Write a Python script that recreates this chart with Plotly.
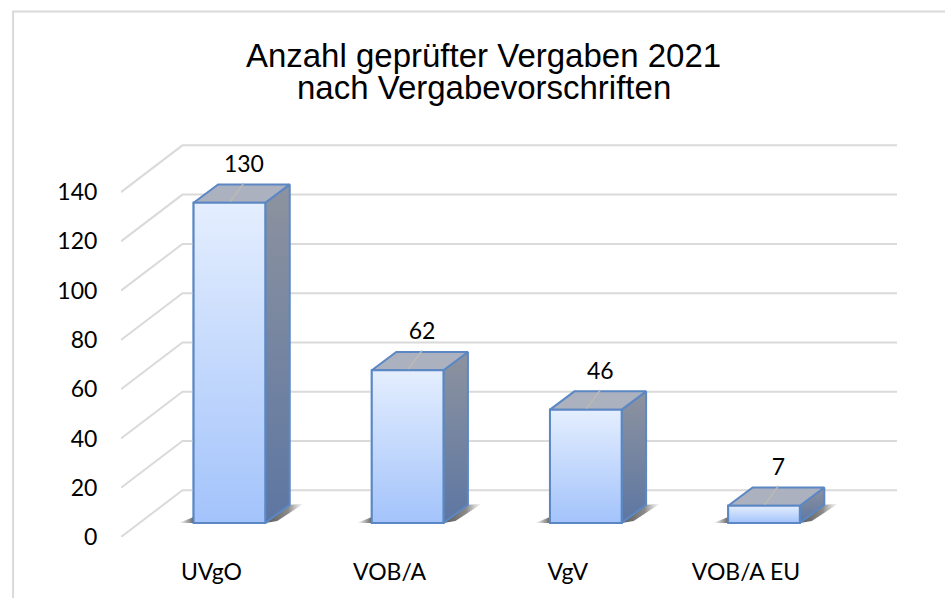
import plotly.graph_objects as go

categories = ["UVgO", "VOB/A", "VgV", "VOB/A EU"]
values = [130, 62, 46, 7]
y_ticks = [0, 20, 40, 60, 80, 100, 120, 140]
title_lines = ["Anzahl geprüfter Vergaben 2021", "nach Vergabevorschriften"]

# layout geometry (pixels)
W, H = 945, 598
PX_L, PX_R = 120.5, 900.0
PX_T, PX_B = 100.0, 536.7
PX_PER_CAT = 178.3
PX_PER_UNIT = 2.462
CAT0_PX = 211.0
BAR_FLOOR_PX = 522.7

x0 = (PX_L - CAT0_PX) / PX_PER_CAT
x1 = (PX_R - CAT0_PX) / PX_PER_CAT
y_top = (PX_B - PX_T) / PX_PER_UNIT
front_off = (PX_B - BAR_FLOOR_PX) / PX_PER_UNIT
back_off = (BAR_FLOOR_PX - 490.0) / PX_PER_UNIT

dxp = lambda p: p / PX_PER_CAT
dyp = lambda p: p / PX_PER_UNIT

BAR_W = dxp(71.7)
BAR_SHIFT = dxp(18.0)
DEPTH_X, DEPTH_Y = dxp(24.5), dyp(18.3)
BACK_L, BACK_R = (182.0 - CAT0_PX) / PX_PER_CAT, (897.0 - CAT0_PX) / PX_PER_CAT

GRID = "#dadada"
EDGE = "#5b88c4"
FONT = "Lato, 'Open Sans', sans-serif"
TITLE_FONT = dict(family="'Liberation Sans', Arial, sans-serif", size=33, color="#000000")

fig = go.Figure()

# invisible trace holding the labelled front axis
fig.add_trace(go.Scatter(x=[x0] * len(y_ticks), y=y_ticks, mode="markers",
                         marker=dict(opacity=0, size=1), yaxis="y",
                         hoverinfo="skip", showlegend=False))

# back wall grid + side wall diagonals
gx, gy = [], []
for v in y_ticks:
    gx += [x0, BACK_L, BACK_R, None]
    gy += [v - front_off, v + back_off, v + back_off, None]
fig.add_trace(go.Scatter(x=gx, y=gy, mode="lines", yaxis="y2",
                         line=dict(color=GRID, width=2), hoverinfo="skip", showlegend=False))

centers = [i + BAR_SHIFT for i in range(len(categories))]

# the real bars (front face base, gradient painted over them)
fig.add_trace(go.Bar(x=centers, y=values, width=BAR_W, yaxis="y2",
                     marker=dict(color="#c3d8fb", line=dict(color=EDGE, width=2)),
                     hovertemplate="%{y}<extra></extra>", showlegend=False))


def poly(xs, ys, **kw):
    fig.add_trace(go.Scatter(x=xs + xs[:1], y=ys + ys[:1], mode="lines", fill="toself", yaxis="y2",
                             hoverinfo="skip", showlegend=False, **kw))


NOLINE = dict(color="rgba(0,0,0,0)", width=0)
for c, v in zip(centers, values):
    l, r = c - BAR_W / 2, c + BAR_W / 2
    # floor shadows
    poly([l - dxp(15), l, l], [0, 0, dyp(6)], line=NOLINE,
         fillgradient=dict(type="horizontal",
                           colorscale=[[0, "rgba(110,110,110,0)"], [1, "rgba(70,70,70,0.85)"]]))
    poly([r, r + DEPTH_X, r + DEPTH_X + dxp(14), r + dxp(12)],
         [0, DEPTH_Y, DEPTH_Y + dyp(1), dyp(2)], line=NOLINE,
         fillgradient=dict(type="horizontal",
                           colorscale=[[0, "rgba(70,70,70,0.9)"], [0.6, "rgba(90,90,90,0.7)"],
                                       [1, "rgba(130,130,130,0)"]]))
    # side face
    poly([r, r + DEPTH_X, r + DEPTH_X, r], [0, DEPTH_Y, v + DEPTH_Y, v],
         line=dict(color=EDGE, width=2),
         fillgradient=dict(type="vertical", colorscale=[[0, "#5d76a2"], [1, "#8d939f"]]))
    # top face
    poly([l, r, r + DEPTH_X, l + DEPTH_X], [v, v, v + DEPTH_Y, v + DEPTH_Y],
         line=dict(color=EDGE, width=2), fillcolor="#abb1bf")
    # leader line
    fig.add_trace(go.Scatter(x=[c, c + dxp(14.5)], y=[v, v + DEPTH_Y + dyp(1.5)], mode="lines", yaxis="y2",
                             line=dict(color="#bdbab5", width=1.5), hoverinfo="skip", showlegend=False))
    # front face
    poly([l, r, r, l], [0, 0, v, v], line=dict(color=EDGE, width=2),
         fillgradient=dict(type="vertical", colorscale=[[0, "#a3c3fb"], [1, "#e4eefe"]]))

# data labels
fig.add_trace(go.Scatter(x=[c + dxp(14.5) for c in centers], y=[v + dyp(36.5) for v in values],
                         text=[str(v) for v in values], mode="text", textposition="middle center",
                         textfont=dict(family=FONT, size=23, color="#000000"), yaxis="y2",
                         hoverinfo="skip", showlegend=False))

fig.update_layout(
    width=W, height=H, autosize=False,
    margin=dict(l=PX_L, r=W - PX_R, t=PX_T, b=H - PX_B, pad=0),
    paper_bgcolor="#ffffff", plot_bgcolor="rgba(0,0,0,0)",
    showlegend=False, barmode="overlay",
    title=dict(text=title_lines[0], x=483.5 / W, xanchor="center", y=1 - 55 / H, yanchor="middle",
               font=TITLE_FONT),
    annotations=[dict(text=title_lines[1], xref="paper", yref="paper", showarrow=False,
                      x=(483.5 - PX_L) / (PX_R - PX_L), xanchor="center",
                      y=(PX_B - 88.0) / (PX_B - PX_T), yanchor="middle", font=TITLE_FONT)],
    xaxis=dict(range=[x0, x1], tickmode="array", tickvals=list(range(len(categories))), ticktext=categories,
               showgrid=False, zeroline=False, showline=False, ticks="outside", ticklen=14, automargin=False,
               tickcolor="rgba(0,0,0,0)", tickfont=dict(family=FONT, size=23, color="#000000")),
    yaxis=dict(range=[0, y_top], tickmode="array", tickvals=y_ticks, showgrid=False, zeroline=False,
               showline=False, ticks="outside", ticklen=18, tickcolor="rgba(0,0,0,0)", automargin=False,
               tickfont=dict(family=FONT, size=23, color="#000000")),
    yaxis2=dict(range=[-front_off, y_top - front_off], overlaying="y", visible=False, automargin=False),
    shapes=[dict(type="rect", xref="paper", yref="paper", layer="below",
                 x0=(12.5 - PX_L) / (PX_R - PX_L), x1=(960.0 - PX_L) / (PX_R - PX_L),
                 y0=(PX_B - 620.0) / (PX_B - PX_T), y1=(PX_B - 11.5) / (PX_B - PX_T),
                 line=dict(color=GRID, width=2), fillcolor="#ffffff")],
)

fig.write_html("out.html", config={"displayModeBar": False},
               post_script="document.body.style.margin='0';document.body.style.overflow='hidden';")
